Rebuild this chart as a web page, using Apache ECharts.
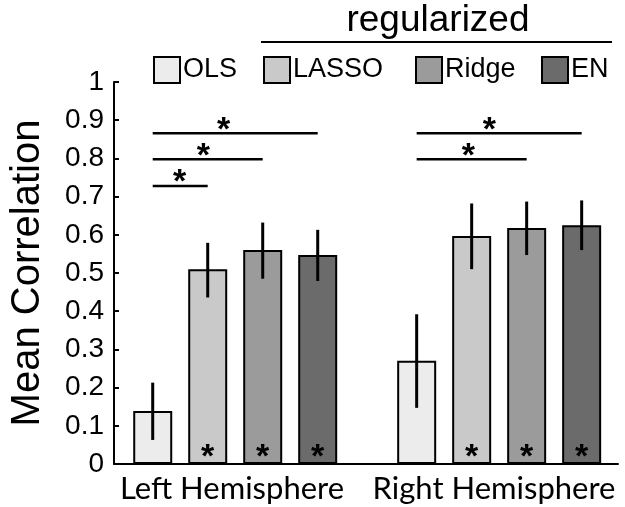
<!DOCTYPE html>
<html><head><meta charset="utf-8">
<script src="https://cdn.jsdelivr.net/npm/echarts@6/dist/echarts.min.js"></script>
<style>html,body{margin:0;padding:0;background:#fff}#c{width:625px;height:507px}</style>
</head><body><div id="c"></div>
<script>
const groups = ['Left Hemisphere', 'Right Hemisphere'];
const methods = ['OLS', 'LASSO', 'Ridge', 'EN'];
const olsMean = [0.139, 0.270];
const lassoMean = [0.510, 0.597];
const ridgeMean = [0.560, 0.618];
const enMean = [0.547, 0.625];
const olsErr = [[0.063, 0.213], [0.147, 0.392]];
const lassoErr = [[0.436, 0.579], [0.510, 0.682]];
const ridgeErr = [[0.485, 0.632], [0.547, 0.687]];
const enErr = [[0.479, 0.613], [0.560, 0.690]];
const sigVsZero = [false, true, true, true];
// [group, fromMethod, toMethod, lineHeight, starFraction]
const comparisons = [
  [0, 0, 1, 0.728, 0.49],
  [0, 0, 2, 0.798, 0.46],
  [0, 0, 3, 0.866, 0.43],
  [1, 0, 2, 0.798, 0.47],
  [1, 0, 3, 0.866, 0.44]
];
const yMin = 0, yMax = 1, yStep = 0.1;

const means = [olsMean, lassoMean, ridgeMean, enMean];
const errs = [olsErr, lassoErr, ridgeErr, enErr];
const colors = ['#ececec', '#c9c9c9', '#9b9b9b', '#6b6b6b'];
const FONT = 'Liberation Sans, Arial, sans-serif';
const SPACING = 55;
const legendLeft = [153, 263, 415, 541];

const errData = [];
errs.forEach((e, m) => e.forEach((r, g) => errData.push([g, m, r[0], r[1]])));

const chart = echarts.init(document.getElementById('c'));
const series = methods.map((m, i) => ({
  type: 'bar', name: m, xAxisIndex: 1, yAxisIndex: 1,
  data: means[i].map((v, g) => [g, v]), barWidth: 39, barGap: '41%',
  itemStyle: { color: colors[i], borderColor: '#000', borderWidth: 2 },
  label: { show: sigVsZero[i], position: 'insideBottom', formatter: '*', distance: -11,
    fontSize: 34, fontWeight: 'bold', color: '#000', fontFamily: FONT },
  emphasis: { disabled: true }
}));
series.push({
  type: 'custom', xAxisIndex: 1, yAxisIndex: 1, data: errData, z: 10,
  encode: { x: 0, y: [2, 3] },
  renderItem: (p, api) => {
    const g = api.value(0), m = api.value(1);
    const a = api.coord([g, api.value(2)]);
    const b = api.coord([g, api.value(3)]);
    const x = a[0] + (m - 1.5) * SPACING;
    return { type: 'line', shape: { x1: x, y1: a[1], x2: x, y2: b[1] },
      style: { stroke: '#000', lineWidth: 3 } };
  }
});
series.push({
  type: 'custom', xAxisIndex: 1, yAxisIndex: 1, data: comparisons, z: 10,
  encode: { x: 0, y: 3 },
  renderItem: (p, api) => {
    const g = api.value(0), f = api.value(1), t = api.value(2);
    const c = api.coord([g, api.value(3)]);
    const x1 = c[0] + (f - 1.5) * SPACING, x2 = c[0] + (t - 1.5) * SPACING;
    const xs = x1 + (x2 - x1) * api.value(4);
    return { type: 'group', children: [
      { type: 'line', shape: { x1: x1, y1: c[1], x2: x2, y2: c[1] }, style: { stroke: '#000', lineWidth: 2.5 } },
      { type: 'text', style: { text: '*', x: xs, y: c[1] + 14, align: 'center', verticalAlign: 'bottom',
        font: 'bold 34px ' + FONT, fill: '#000' } }
    ] };
  }
});

chart.setOption({
  animation: false,
  title: { text: 'regularized', left: 433, top: -3, textAlign: 'center',
    textStyle: { fontSize: 37, fontWeight: 'normal', color: '#000', fontFamily: FONT } },
  graphic: [{ type: 'line', shape: { x1: 261, y1: 42, x2: 612, y2: 42 }, style: { stroke: '#000', lineWidth: 2 } }],
  legend: methods.map((m, i) => ({
    data: [m], left: legendLeft[i], top: 56, padding: 0, itemWidth: 26, itemHeight: 26, icon: 'rect',
    textStyle: { fontSize: 27, color: '#000', fontFamily: FONT, padding: [0, 0, 0, -2] }
  })),
  grid: [
    { left: 101, right: 0, top: 82, bottom: 43 },
    { left: 112, right: 7, top: 82, bottom: 43 }
  ],
  xAxis: [
    { type: 'category', gridIndex: 0, data: groups, axisLine: { show: false }, axisTick: { show: false },
      axisLabel: { fontSize: 31, color: '#000', margin: 9, interval: 0, fontFamily: 'Lato, "Open Sans", sans-serif' } },
    { type: 'value', gridIndex: 1, min: -0.4592, max: 1.4502, axisLine: { onZero: false, lineStyle: { color: '#000', width: 2 } },
      axisTick: { show: false }, axisLabel: { show: false }, splitLine: { show: false } }
  ],
  yAxis: [
    { type: 'value', gridIndex: 0, min: yMin, max: yMax, show: false, splitLine: { show: false } },
    { type: 'value', gridIndex: 1, min: yMin, max: yMax, interval: yStep,
      name: 'Mean Correlation', nameLocation: 'middle', nameGap: 66,
      nameTextStyle: { fontSize: 40, color: '#000', fontFamily: FONT },
      axisLine: { onZero: false, lineStyle: { color: '#000', width: 2 } },
      axisTick: { inside: true, length: 5, lineStyle: { color: '#000', width: 2 } },
      axisLabel: { fontSize: 28, color: '#000', margin: 10, fontFamily: FONT },
      splitLine: { show: false } }
  ],
  series: series
});
</script></body></html>
